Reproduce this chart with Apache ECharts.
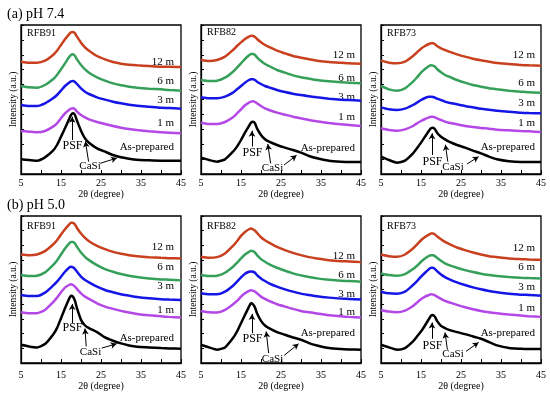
<!DOCTYPE html>
<html><head><meta charset="utf-8">
<script src="https://cdn.jsdelivr.net/npm/echarts@6/dist/echarts.min.js"></script>
<style>html,body{margin:0;padding:0;background:#fff}#c{width:550px;height:396px}</style>
</head><body><div id="c"></div>
<script>
// 2θ sampling positions (degree)
const twoTheta = [5,7,9,11,13,14,15,16,17,17.5,18,18.5,19,20,21,22,24,26,28,30,32,34,37,40,42,45];
const xTicks = [5,15,25,35,45];
const sampleLabels = ['As-prepared','1 m','3 m','6 m','12 m'];
const panelNames = ['RFB91','RFB82','RFB73','RFB91','RFB82','RFB73'];
const rowTitles = ['(a) pH 7.4','(b) pH 5.0'];

// (a) pH 7.4 — intensity (a.u., stacked offsets included)
const a_RFB91_asp = [44,42,40,50,70,87,112,137,164,177,182,177,160,130,107,94,77,67,57,50,46,43,41,40,40,40];
const a_RFB91_1m  = [129,127,125,129,142,152,167,182,192,196,197,194,187,177,170,164,156,150,144,139,135,132,128,125,124,122];
const a_RFB91_3m  = [207,204,204,212,227,237,250,264,274,278,279,276,270,257,247,240,230,223,217,212,208,205,202,199,198,196];
const a_RFB91_6m  = [264,260,259,267,284,297,314,332,350,357,359,354,344,327,314,304,290,280,272,266,262,259,256,254,252,250];
const a_RFB91_12m = [337,334,334,340,357,370,387,404,419,425,426,422,412,394,380,370,354,344,336,331,328,326,324,322,322,321];

const a_RFB82_asp = [49,42,37,44,67,82,102,124,144,154,157,152,137,117,104,97,87,79,72,64,54,47,40,37,36,36];
const a_RFB82_1m  = [154,150,150,156,170,182,194,206,214,217,218,216,212,204,197,192,184,178,172,167,162,158,153,149,147,144];
const a_RFB82_3m  = [230,227,227,232,244,254,264,274,282,284,284,282,277,270,264,260,252,246,241,237,233,230,226,223,222,220];
const a_RFB82_6m  = [282,279,280,289,307,319,332,345,356,360,360,357,350,339,330,324,312,304,296,290,286,282,278,275,274,272];
const a_RFB82_12m = [342,339,342,352,372,384,395,405,412,415,414,411,405,395,387,381,370,362,354,349,344,340,336,334,332,331];

const a_RFB73_asp = [52,42,34,40,62,77,94,112,130,137,139,134,124,112,104,97,87,79,70,62,52,44,38,36,36,36];
const a_RFB73_1m  = [137,132,130,134,144,152,159,165,170,172,172,170,167,162,157,154,149,144,141,138,136,133,131,129,128,126];
const a_RFB73_3m  = [200,194,192,196,207,214,222,228,232,232,231,229,226,222,217,214,209,204,200,196,193,190,187,184,183,182];
const a_RFB73_6m  = [264,254,250,257,277,290,304,315,324,326,325,322,315,305,297,292,282,274,267,262,257,254,250,247,245,244];
const a_RFB73_12m = [340,334,332,337,354,365,376,384,390,392,392,389,384,377,372,367,359,352,346,341,337,333,330,327,326,325];

// (b) pH 5.0
const b_RFB91_asp = [55,50,47,57,85,105,135,165,193,203,200,187,165,130,113,105,93,77,67,59,53,49,47,45,44,43];
const b_RFB91_1m  = [153,150,150,160,183,197,213,227,235,237,235,230,223,210,200,193,180,170,163,157,152,148,144,141,139,137];
const b_RFB91_3m  = [205,202,202,212,233,245,260,275,287,290,288,283,275,260,250,243,230,220,213,207,203,199,195,192,191,190];
const b_RFB91_6m  = [265,262,263,273,295,309,327,345,360,365,365,360,350,333,320,310,295,283,275,268,263,259,255,252,251,249];
const b_RFB91_12m = [327,325,327,337,357,370,387,403,417,423,422,417,407,390,377,367,353,343,335,329,325,322,319,317,316,315];

const b_RFB82_asp = [55,47,40,47,75,95,120,145,170,180,177,167,150,127,113,105,93,85,77,70,60,53,45,42,41,40];
const b_RFB82_1m  = [157,153,152,160,177,187,200,210,217,219,218,215,210,200,193,187,177,170,163,157,153,149,144,141,139,137];
const b_RFB82_3m  = [210,207,207,215,233,245,258,269,275,276,275,272,265,255,247,240,230,222,215,209,205,201,197,194,193,191];
const b_RFB82_6m  = [265,262,263,272,290,302,315,327,335,338,337,333,325,313,305,298,287,278,270,264,259,255,251,248,247,245];
const b_RFB82_12m = [320,317,319,330,353,367,383,395,403,405,403,399,392,379,370,363,350,340,332,325,319,315,310,307,306,304];

const b_RFB73_asp = [55,47,40,45,65,80,95,113,133,143,145,139,127,112,105,100,93,87,80,73,63,53,45,43,42,42];
const b_RFB73_1m  = [160,155,153,158,172,182,192,200,205,207,206,204,200,193,187,183,175,168,162,157,153,150,146,143,141,139];
const b_RFB73_3m  = [215,210,209,215,235,247,260,272,283,287,287,283,277,267,259,253,243,235,228,222,217,213,209,206,205,203];
const b_RFB73_6m  = [270,265,263,268,283,293,305,315,323,325,325,322,317,308,300,295,287,280,274,269,265,262,259,257,256,255];
const b_RFB73_12m = [327,322,320,327,345,357,370,380,387,390,390,387,382,373,365,359,348,340,333,327,322,319,315,313,312,311];

// annotation arrows [x0,y0,x1,y1] in data units: PSF, CaSi-1, CaSi-2
const arrowsPSF  = [[17.8,102,17.8,172],[17.75,82,17.75,130],[17.75,57,17.75,122],[17.8,120,17.8,178],[17.75,90,17.75,148],[17.75,73,17.75,122]];
const arrowsCaSi1= [[21.9,37,21.1,98],[22.4,32,21.7,90],[21.7,37,21.1,88],[21.3,50,21.0,104],[21.9,30,21.3,95],[21.6,40,21.0,92]];
const arrowsCaSi2= [[24.8,32,29.0,48],[25.75,27,28.9,56],[26.5,30,29.4,52],[25.2,45,28.9,58],[25.8,23,29.4,58],[26.25,35,29.4,62]];

const panelData = [
  [a_RFB91_asp,a_RFB91_1m,a_RFB91_3m,a_RFB91_6m,a_RFB91_12m],
  [a_RFB82_asp,a_RFB82_1m,a_RFB82_3m,a_RFB82_6m,a_RFB82_12m],
  [a_RFB73_asp,a_RFB73_1m,a_RFB73_3m,a_RFB73_6m,a_RFB73_12m],
  [b_RFB91_asp,b_RFB91_1m,b_RFB91_3m,b_RFB91_6m,b_RFB91_12m],
  [b_RFB82_asp,b_RFB82_1m,b_RFB82_3m,b_RFB82_6m,b_RFB82_12m],
  [b_RFB73_asp,b_RFB73_1m,b_RFB73_3m,b_RFB73_6m,b_RFB73_12m]
];

const colors = ['#000000','#b448e6','#1515e6','#36a05a','#c8401e'];
const FONT = '"Liberation Serif","Times New Roman",serif';

const lefts = [21,201,381];
const rows = [{top:25,h:149,max:447},{top:216,h:147,max:443}];
// label layout (page px) per panel: name pos, label y for [asp,1m,3m,6m,12m], PSF pos, CaSi pos
const labelLayout = [
  {name:[27,34], ys:[147,123,100,81,62], right:174, psf:[72.5,146], casi:[90,166]},
  {name:[207,33], ys:[148,117,97,78,55], right:355, psf:[252.5,153], casi:[272.5,168]},
  {name:[387,34], ys:[147,123,103,83,55], right:535, psf:[432.5,162], casi:[453,167]},
  {name:[27,227], ys:[338,310,286,267,247], right:174, psf:[72.5,328], casi:[90.5,352]},
  {name:[207,227], ys:[333,312,294,275,256], right:355, psf:[252.5,339], casi:[272.5,359]},
  {name:[387,227], ys:[333,308,287,267,248], right:535, psf:[432.5,346], casi:[453,354]}
];

const grids=[], xAxes=[], yAxes=[], series=[], graphics=[];
for (let p=0;p<6;p++){
  const r = rows[p<3?0:1];
  const L = lefts[p%3];
  grids.push({left:L, top:r.top, width:160, height:r.h, show:true, borderColor:'#000', borderWidth:1.3, backgroundColor:'transparent'});
  xAxes.push({gridIndex:p, type:'value', min:5, max:45, interval:5,
    axisLine:{lineStyle:{color:'#000',width:1.3}},
    axisTick:{inside:true,length:4,lineStyle:{color:'#000',width:1}},
    splitLine:{show:false},
    axisLabel:{margin:p<3?4:7, fontFamily:FONT, fontSize:10, color:'#000',
      formatter:v=> xTicks.indexOf(v)>=0 ? String(v) : ''},
    name:'2θ (degree)', nameLocation:'middle', nameGap:p<3?14:17,
    nameTextStyle:{fontFamily:FONT,fontSize:10,color:'#000'}});
  yAxes.push({gridIndex:p, type:'value', min:0, max:r.max, interval:r.max/10,
    axisLine:{lineStyle:{color:'#000',width:1.3}},
    axisTick:{inside:true,length:3,lineStyle:{color:'#000',width:1}},
    axisLabel:{show:false}, splitLine:{show:false}});
  panelData[p].forEach((arr,k)=>{
    const s = {type:'line', xAxisIndex:p, yAxisIndex:p, data:twoTheta.map((x,i)=>[x,arr[i]]),
      showSymbol:false, smooth:0.2, lineStyle:{color:colors[k], width:2.5}, z: 2+k, silent:true};
    if(k===0){
      const mk = a=>[{coord:[a[0],a[1]]},{coord:[a[2],a[3]]}];
      s.markLine = {silent:true, symbol:['none','arrow'], symbolSize:[5,6], animation:false,
        lineStyle:{color:'#000',width:1,type:'solid'}, label:{show:false},
        data:[mk(arrowsPSF[p]),mk(arrowsCaSi1[p]),mk(arrowsCaSi2[p])]};
    }
    series.push(s);
  });
  const lay = labelLayout[p];
  graphics.push({type:'text', left:lay.name[0], top:lay.name[1]-6, style:{text:panelNames[p], font:'10px '+FONT, fill:'#000'}});
  sampleLabels.forEach((t,k)=>{
    graphics.push({type:'text', x:lay.right, y:lay.ys[k], style:{text:t, font:'11px '+FONT, fill:'#000', textAlign:'right', textVerticalAlign:'middle'}});
  });
  graphics.push({type:'text', x:lay.psf[0], y:lay.psf[1], style:{text:'PSF', font:'12px '+FONT, fill:'#000', textAlign:'center', textVerticalAlign:'middle'}});
  graphics.push({type:'text', x:lay.casi[0], y:lay.casi[1], style:{text:'CaSi', font:'11px '+FONT, fill:'#000', textAlign:'center', textVerticalAlign:'middle'}});
  graphics.push({type:'text', x:L-8, y:r.top+r.h/2, rotation:Math.PI/2, style:{text:'Intensity (a.u.)', font:'9.5px '+FONT, fill:'#000', textAlign:'center', textVerticalAlign:'middle'}});
}
graphics.push({type:'text', x:7, y:14, style:{text:rowTitles[0], font:'14px '+FONT, fill:'#000', textVerticalAlign:'middle'}});
graphics.push({type:'text', x:7, y:205, style:{text:rowTitles[1], font:'14px '+FONT, fill:'#000', textVerticalAlign:'middle'}});

const chart = echarts.init(document.getElementById('c'), null, {renderer:'canvas'});
chart.setOption({animation:false, backgroundColor:'#fff', grid:grids, xAxis:xAxes, yAxis:yAxes, series:series, graphic:graphics});
</script></body></html>
